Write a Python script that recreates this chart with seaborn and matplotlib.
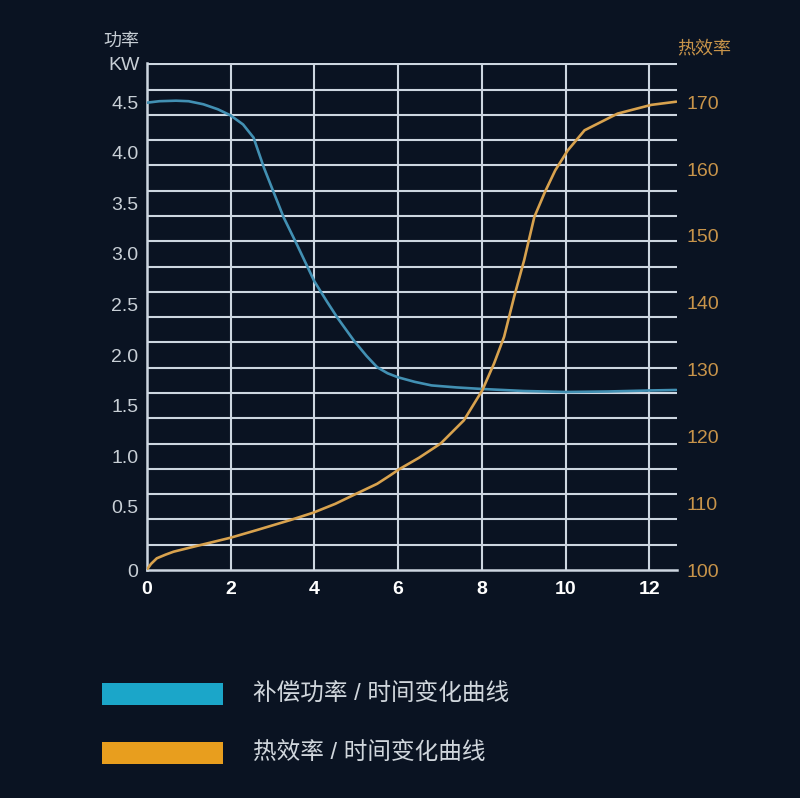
import numpy as np
import matplotlib
matplotlib.use("Agg")
import matplotlib.pyplot as plt
from matplotlib.patches import Rectangle
import seaborn as sns

# =========================
# DATA
# =========================

power_time = [0, 0.3, 0.7, 1.0, 1.35, 1.7, 2.0, 2.3, 2.55, 2.8, 3.0, 3.27, 3.6, 4.0,
              4.3, 4.55, 4.95, 5.25, 5.5, 5.75, 6.0, 6.4, 6.8, 7.4, 8.0, 9.0,
              10.0, 11.0, 12.0, 12.64]
power_kw = [4.495, 4.51, 4.515, 4.51, 4.48, 4.43, 4.37, 4.28, 4.15, 3.85, 3.64, 3.36,
            3.08, 2.73, 2.53, 2.37, 2.14, 1.99, 1.88, 1.82, 1.78, 1.735, 1.70, 1.68,
            1.665, 1.645, 1.635, 1.64, 1.65, 1.655]

eff_time = [0, 0.1, 0.24, 0.45, 0.64, 1.0, 1.35, 2.0, 2.63, 3.43, 3.97, 4.5, 5.02,
            5.5, 5.82, 6.02, 6.5, 7.02, 7.57, 8.01, 8.29, 8.53, 8.77, 9.01, 9.25,
            9.5, 9.75, 10.05, 10.45, 11.24, 12.04, 12.64]
eff_value = [100, 100.9, 101.75, 102.3, 102.74, 103.3, 103.84, 104.83, 105.98, 107.48,
             108.57, 109.9, 111.47, 112.9, 114.2, 115.06, 116.8, 118.95, 122.4, 126.9,
             130.9, 134.9, 140.9, 146.4, 152.8, 156.5, 159.8, 162.8, 165.8, 168.3,
             169.6, 170.08]

x_ticks = [0, 2, 4, 6, 8, 10, 12]
left_ticks = [-0.125, 0.5, 1.0, 1.5, 2.0, 2.5, 3.0, 3.5, 4.0, 4.5]
left_labels = ["0", "0.5", "1.0", "1.5", "2.0", "2.5", "3.0", "3.5", "4.0", "4.5"]
right_ticks = [100, 110, 120, 130, 140, 150, 160, 170]

legend_labels = ["补偿功率 / 时间变化曲线", "热效率 / 时间变化曲线"]

# =========================
# STYLE
# =========================

BG = "#0a1322"
GRID = "#cdd6e0"
BLUE_LINE = "#4290b3"
ORANGE_LINE = "#d8a24e"
BLUE_LEG = "#1ba6c9"
ORANGE_LEG = "#e89e1e"
LABEL = "#c8cfd6"
ORANGE_TXT = "#c8944a"

sns.set_style("dark")
plt.rcParams["font.family"] = ["Liberation Sans", "Noto Sans CJK SC", "DejaVu Sans"]

fig = plt.figure(figsize=(8, 7.98), dpi=100, facecolor=BG)
ax = fig.add_axes([0.1834, 0.2857, 0.6625, 0.635])
ax.set_facecolor(BG)

# =========================
# LEFT AXIS - POWER
# =========================

y_lo, y_hi = -0.125, 4.885
sns.lineplot(x=power_time, y=power_kw, ax=ax, color=BLUE_LINE, linewidth=1.9, zorder=5)

ax.set_xlim(0, 12.65)
ax.set_ylim(y_lo, y_hi)
ax.set_xticks(x_ticks)
ax.set_xticklabels([str(t) for t in x_ticks], color="white", fontsize=14, fontweight="bold")
ax.set_yticks(left_ticks)
ax.set_yticklabels(left_labels, color=LABEL, fontsize=14)
ax.set_yticks(np.arange(-0.125, 4.9, 0.25), minor=True)
ax.tick_params(axis="both", which="both", length=0)
ax.tick_params(axis="x", pad=8)
ax.tick_params(axis="y", pad=6)

ax.grid(False)
ax.xaxis.grid(True, which="major", color=GRID, linewidth=1.5)
ax.yaxis.grid(True, which="minor", color=GRID, linewidth=1.5)
ax.set_axisbelow(True)

for side in ["top", "right"]:
    ax.spines[side].set_visible(False)
for side in ["left", "bottom"]:
    ax.spines[side].set_visible(True)
    ax.spines[side].set_color(GRID)
    ax.spines[side].set_linewidth(1.8)
ax.set_xlabel("")
ax.set_ylabel("")

# =========================
# RIGHT AXIS - EFFICIENCY
# =========================

ax2 = ax.twinx()
ax2.patch.set_visible(False)
sns.lineplot(x=eff_time, y=eff_value, ax=ax2, color=ORANGE_LINE, linewidth=1.9)

scale = 70 / (4.5 - y_lo)
ax2.set_ylim(100, 100 + scale * (y_hi - y_lo))
ax2.set_yticks(right_ticks)
ax2.set_yticklabels([str(t) for t in right_ticks], color=ORANGE_TXT, fontsize=14)
ax2.tick_params(axis="y", length=0, pad=7)
ax2.grid(False)
for side in ax2.spines:
    ax2.spines[side].set_visible(False)
ax2.set_ylabel("")

# =========================
# AXIS TITLES
# =========================

fig.text(139 / 800, 1 - 42 / 798, "功率", ha="right", va="center",
         color=LABEL, fontsize=13)
fig.text(140 / 800, 1 - 66 / 798, "KW", ha="right", va="center",
         color=LABEL, fontsize=14)
fig.text(677 / 800, 1 - 49 / 798, "热效率", ha="left", va="center",
         color=ORANGE_TXT, fontsize=13)

# =========================
# LEGEND
# =========================

leg_colors = [BLUE_LEG, ORANGE_LEG]
leg_rows = [694, 753]
for label, col, row in zip(legend_labels, leg_colors, leg_rows):
    fig.patches.append(Rectangle((102 / 800, 1 - (row + 11) / 798), 121 / 800, 22 / 798,
                                 transform=fig.transFigure, facecolor=col,
                                 edgecolor="none"))
    fig.text(253 / 800, 1 - row / 798, label, ha="left", va="center",
             color="#d0d6dc", fontsize=17)

fig.savefig("out.png", dpi=100, facecolor=BG)
